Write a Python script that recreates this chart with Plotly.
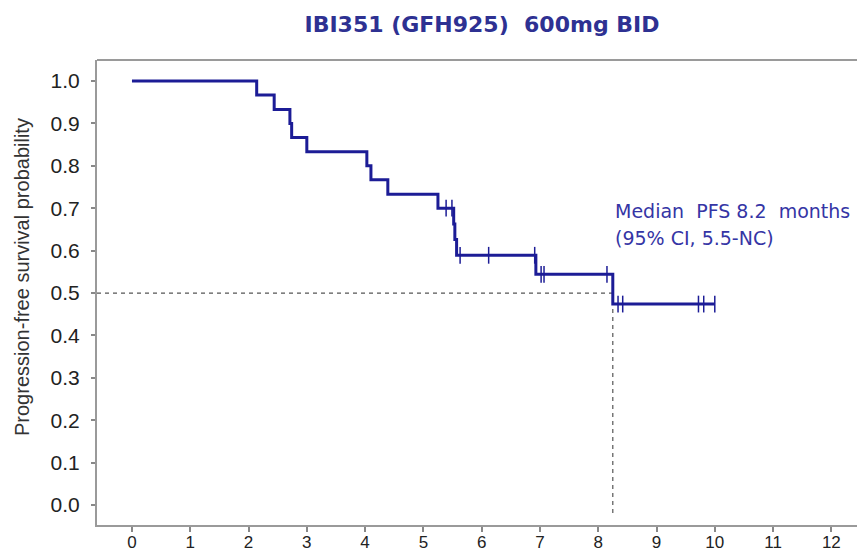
import plotly.graph_objects as go

# ---- data ----
event_times = [0, 2.14, 2.44, 2.71, 2.74, 3.00, 4.03, 4.10, 4.39, 5.25, 5.52, 5.54, 5.57, 6.93, 8.25, 10.0]
survival = [1.0, 0.967, 0.933, 0.900, 0.867, 0.833, 0.800, 0.767, 0.733, 0.700, 0.663, 0.626, 0.589, 0.544, 0.474, 0.474]
censor_times = [5.39, 5.49, 5.63, 6.12, 6.91, 7.02, 7.07, 8.15, 8.34, 8.42, 9.72, 9.81, 10.0]
median_pfs = 8.25
x_ticks = list(range(0, 13))
y_ticks = [0.0, 0.1, 0.2, 0.3, 0.4, 0.5, 0.6, 0.7, 0.8, 0.9, 1.0]
title_text = "IBI351 (GFH925)  600mg BID"
note_line1 = "Median  PFS 8.2  months"
note_line2 = "(95% CI, 5.5-NC)"
y_title = "Progression-free survival probability"


def surv_at(t):
    s = survival[0]
    for et, sv in zip(event_times, survival):
        if et <= t:
            s = sv
    return s


censor_surv = [surv_at(t) for t in censor_times]

X_RANGE = [-0.60, 12.44]
Y_RANGE = [-0.047, 1.0495]
CURVE = "#1c1c96"

fig = go.Figure()

# median reference lines
fig.add_trace(go.Scatter(x=[X_RANGE[0], median_pfs], y=[0.5, 0.5], mode="lines",
                         line=dict(color="#555555", width=1.2, dash="4px,4px"),
                         hoverinfo="skip", showlegend=False))
fig.add_trace(go.Scatter(x=[median_pfs, median_pfs], y=[0.5, -0.028], mode="lines",
                         line=dict(color="#555555", width=1.2, dash="4px,4px"),
                         hoverinfo="skip", showlegend=False))

# KM curve
fig.add_trace(go.Scatter(x=event_times, y=survival, mode="lines", line_shape="hv",
                         line=dict(color=CURVE, width=3), showlegend=False))

# censor marks
fig.add_trace(go.Scatter(x=censor_times, y=censor_surv, mode="markers",
                         marker=dict(symbol="line-ns-open", size=12, color=CURVE,
                                     line=dict(color=CURVE, width=1.5)),
                         showlegend=False))

fig.update_layout(
    width=857, height=553,
    margin=dict(l=97, r=0, t=60, b=28, autoexpand=False),
    paper_bgcolor="white", plot_bgcolor="white",
    title=dict(text=f"<b>{title_text}</b>", x=482 / 857, xref="container", xanchor="center",
               y=1 - 24.5 / 553, yref="container", yanchor="middle",
               font=dict(family="DejaVu Sans", size=22, color="#2e3192")),
    xaxis=dict(range=X_RANGE, tickvals=x_ticks, ticktext=[str(v) for v in x_ticks],
               showgrid=False, zeroline=False, showline=True, linecolor="#9a9a9a", linewidth=2,
               ticks="outside", ticklen=5, tickwidth=1.5, tickcolor="#888888", automargin=False,
               tickfont=dict(family="Liberation Sans, Arial", size=17, color="#222222"),
               ticklabelstandoff=-4),
    yaxis=dict(range=Y_RANGE, tickvals=y_ticks, ticktext=[f"{v:.1f}" for v in y_ticks],
               showgrid=False, zeroline=False, showline=True, linecolor="#9a9a9a", linewidth=2,
               ticks="outside", ticklen=4, tickwidth=1.5, tickcolor="#888888", automargin=False,
               tickfont=dict(family="Liberation Sans, Arial", size=21, color="#222222"),
               ticklabelstandoff=7),
    shapes=[dict(type="line", xref="paper", yref="paper", x0=0, x1=1, y0=1, y1=1,
                 line=dict(color="#9a9a9a", width=2))],
    annotations=[
        dict(text=y_title, textangle=-90, xref="paper", yref="paper",
             x=(22 - 97) / 760, y=(525 - 277) / 465, xanchor="center", yanchor="middle",
             showarrow=False, font=dict(family="Liberation Sans, Arial", size=20, color="#333333")),
        dict(text=note_line1, xref="x", yref="y", x=8.25, y=0.693, xanchor="left", yanchor="middle",
             showarrow=False, font=dict(family="DejaVu Sans", size=19, color="#3535a5")),
        dict(text=note_line2, xref="x", yref="y", x=8.25, y=0.630, xanchor="left", yanchor="middle",
             showarrow=False, font=dict(family="DejaVu Sans", size=19, color="#3535a5")),
    ],
)

fig.write_html("out.html")
